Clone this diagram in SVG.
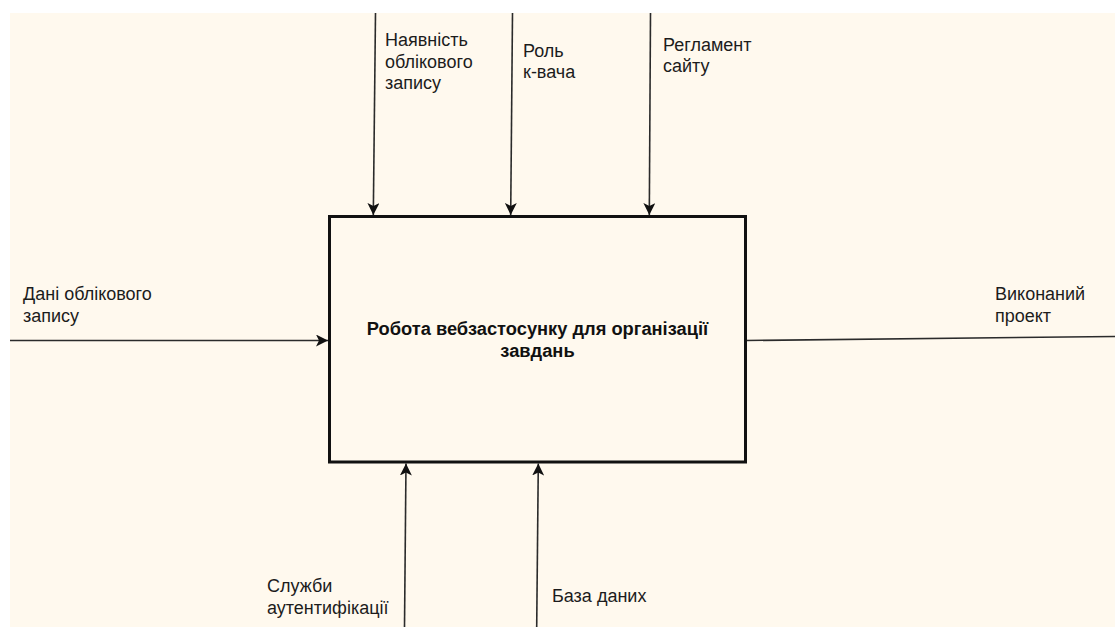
<svg xmlns="http://www.w3.org/2000/svg" width="1115" height="628" viewBox="0 0 1115 628">
  <style>
    .lbl { font-family: "Liberation Sans", Arial, sans-serif; font-size: 18px; fill: #1c1c1c; }
    .title { font-family: "Liberation Sans", Arial, sans-serif; font-size: 18.3px; font-weight: bold; fill: #111; text-anchor: middle; }
    .arrow { stroke: #2b2b2b; stroke-width: 1.6; fill: none; marker-end: url(#head); }
    .plain { stroke: #2b2b2b; stroke-width: 1.6; fill: none; }
  </style>
  <defs>
    <marker id="head" markerUnits="userSpaceOnUse" viewBox="0 0 12 12" refX="12" refY="6" markerWidth="12" markerHeight="12" orient="auto">
      <path d="M0,0 L12,6 L0,12 L3,6 z" fill="#111"/>
    </marker>
  </defs>

  <!-- canvas -->
  <rect x="0" y="0" width="1115" height="628" fill="#ffffff"/>
  <rect x="10" y="13" width="1105" height="614" fill="#fff9ee"/>

  <!-- connectors -->
  <g id="connectors">
    <!-- controls -->
    <line class="arrow" x1="375.5" y1="13" x2="373.3" y2="215"/>
    <line class="arrow" x1="512.5" y1="13" x2="510.7" y2="215"/>
    <line class="arrow" x1="650.5" y1="13" x2="649.3" y2="215"/>
    <!-- input -->
    <line class="arrow" x1="10" y1="340.5" x2="328" y2="340.5"/>
    <!-- output -->
    <line class="plain" x1="746" y1="340.5" x2="1115" y2="336.5"/>
    <!-- mechanisms -->
    <line class="arrow" x1="404.5" y1="627" x2="406" y2="463.5"/>
    <line class="arrow" x1="536.7" y1="627" x2="538.3" y2="463.5"/>
  </g>

  <!-- function block -->
  <g id="node-function">
    <rect x="329.5" y="216.5" width="416" height="245.5" fill="#fff9ee" stroke="#111" stroke-width="3"/>
    <text class="title" x="537.5" y="334.5">Робота вебзастосунку для організації</text>
    <text class="title" x="537.5" y="356.5">завдань</text>
  </g>

  <!-- arrow labels -->
  <g id="label-account-presence">
    <text class="lbl" x="385" y="46">Наявність</text>
    <text class="lbl" x="385" y="67.5">облікового</text>
    <text class="lbl" x="385" y="89">запису</text>
  </g>
  <g id="label-role">
    <text class="lbl" x="523" y="56.5">Роль</text>
    <text class="lbl" x="523" y="78">к-вача</text>
  </g>
  <g id="label-rules">
    <text class="lbl" x="663" y="50.5">Регламент</text>
    <text class="lbl" x="663" y="72">сайту</text>
  </g>
  <g id="label-account-data">
    <text class="lbl" x="23" y="300">Дані облікового</text>
    <text class="lbl" x="23" y="321.5">запису</text>
  </g>
  <g id="label-result">
    <text class="lbl" x="995" y="300">Виконаний</text>
    <text class="lbl" x="995" y="321.5">проект</text>
  </g>
  <g id="label-auth">
    <text class="lbl" x="267" y="592">Служби</text>
    <text class="lbl" x="267" y="613.5">аутентифікації</text>
  </g>
  <g id="label-db">
    <text class="lbl" x="552" y="602">База даних</text>
  </g>
</svg>
